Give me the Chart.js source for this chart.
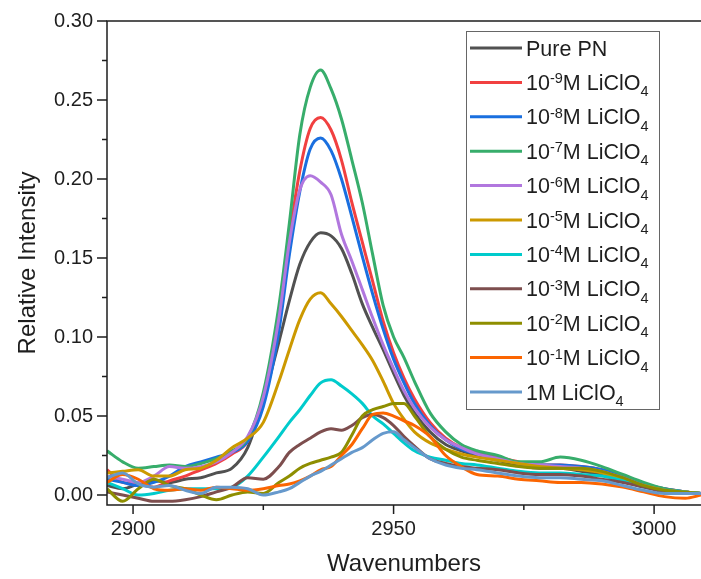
<!DOCTYPE html>
<html>
<head>
<meta charset="utf-8">
<script src="https://cdn.jsdelivr.net/npm/chart.js@4.4.1/dist/chart.umd.min.js"></script>
<style>
  html, body { margin: 0; padding: 0; background: #fff; }
  canvas { display: block; }
</style>
</head>
<body>
<canvas id="chart" width="701" height="579"></canvas>
<script>
// Wavenumber positions shared by every spectrum
const wavenumbers = [2895, 2898, 2901, 2904, 2907, 2910, 2913, 2916, 2919, 2922,
    2925, 2928, 2930, 2932, 2934, 2936, 2938, 2940, 2942, 2944,
    2946, 2948, 2950, 2952, 2954, 2957, 2960, 2963, 2966, 2970,
    2974, 2978, 2982, 2986, 2990, 2994, 2998, 3002, 3006, 3009];

// Relative intensity, one array per sample
const purePN = [0.006, 0.004, 0.007, 0.009, 0.008, 0.010, 0.011, 0.014, 0.017, 0.030,
    0.060, 0.097, 0.123, 0.146, 0.160, 0.166, 0.164, 0.156, 0.140, 0.121,
    0.106, 0.092, 0.077, 0.063, 0.052, 0.040, 0.032, 0.028, 0.025, 0.022,
    0.019, 0.017, 0.017, 0.015, 0.013, 0.010, 0.006, 0.003, 0.002, 0.001];
const m1e9 = [0.016, 0.008, 0.007, 0.005, 0.009, 0.012, 0.016, 0.020, 0.026, 0.034,
    0.060, 0.112, 0.163, 0.205, 0.232, 0.239, 0.231, 0.212, 0.185, 0.160,
    0.135, 0.110, 0.090, 0.074, 0.061, 0.046, 0.036, 0.030, 0.027, 0.024,
    0.021, 0.019, 0.019, 0.018, 0.016, 0.012, 0.007, 0.004, 0.002, 0.001];
const m1e8 = [0.010, 0.008, 0.006, 0.008, 0.012, 0.018, 0.021, 0.024, 0.027, 0.034,
    0.056, 0.104, 0.152, 0.192, 0.219, 0.226, 0.218, 0.200, 0.176, 0.151,
    0.127, 0.105, 0.086, 0.071, 0.058, 0.044, 0.035, 0.029, 0.026, 0.023,
    0.020, 0.019, 0.019, 0.018, 0.016, 0.012, 0.007, 0.004, 0.002, 0.001];
const m1e7 = [0.028, 0.021, 0.017, 0.018, 0.019, 0.018, 0.020, 0.023, 0.028, 0.036,
    0.065, 0.120, 0.172, 0.228, 0.258, 0.269, 0.257, 0.238, 0.212, 0.185,
    0.152, 0.120, 0.100, 0.087, 0.072, 0.052, 0.040, 0.032, 0.028, 0.025,
    0.021, 0.021, 0.024, 0.022, 0.018, 0.013, 0.008, 0.004, 0.002, 0.001];
const m1e6 = [0.012, 0.010, 0.008, 0.012, 0.018, 0.017, 0.018, 0.021, 0.027, 0.037,
    0.062, 0.112, 0.160, 0.193, 0.202, 0.198, 0.190, 0.165, 0.148, 0.130,
    0.112, 0.095, 0.080, 0.066, 0.055, 0.043, 0.035, 0.030, 0.026, 0.023,
    0.020, 0.019, 0.018, 0.017, 0.015, 0.011, 0.006, 0.003, 0.002, 0.001];
const m1e5 = [0.014, 0.015, 0.016, 0.012, 0.012, 0.016, 0.017, 0.022, 0.030, 0.036,
    0.046, 0.072, 0.092, 0.111, 0.124, 0.128, 0.121, 0.113, 0.104, 0.095,
    0.085, 0.072, 0.058, 0.048, 0.040, 0.033, 0.029, 0.026, 0.024, 0.022,
    0.020, 0.018, 0.017, 0.016, 0.014, 0.010, 0.006, 0.003, 0.002, 0.001];
const m1e4 = [0.008, 0.004, 0.000, 0.001, 0.003, 0.004, 0.004, 0.004, 0.005, 0.012,
    0.024, 0.037, 0.046, 0.054, 0.063, 0.071, 0.073, 0.069, 0.064, 0.058,
    0.050, 0.045, 0.039, 0.033, 0.028, 0.024, 0.022, 0.020, 0.019, 0.017,
    0.015, 0.014, 0.014, 0.013, 0.012, 0.009, 0.005, 0.003, 0.002, 0.001];
const m1e3 = [0.002, 0.000, -0.002, -0.004, -0.004, -0.003, -0.001, 0.002, 0.005, 0.011,
    0.010, 0.018, 0.027, 0.032, 0.036, 0.040, 0.042, 0.041, 0.044, 0.049,
    0.051, 0.049, 0.044, 0.037, 0.031, 0.023, 0.020, 0.018, 0.017, 0.016,
    0.014, 0.013, 0.013, 0.012, 0.010, 0.008, 0.005, 0.002, 0.001, 0.001];
const m1e2 = [0.004, -0.004, 0.004, 0.010, 0.006, 0.004, 0.000, -0.003, 0.000, 0.002,
    0.001, 0.008, 0.012, 0.017, 0.020, 0.022, 0.024, 0.027, 0.038, 0.050,
    0.054, 0.056, 0.058, 0.058, 0.050, 0.037, 0.029, 0.024, 0.022, 0.020,
    0.018, 0.017, 0.017, 0.017, 0.015, 0.011, 0.006, 0.003, 0.002, 0.001];
const m1e1 = [0.008, 0.013, 0.010, 0.004, 0.003, 0.004, 0.003, 0.005, 0.004, 0.003,
    0.004, 0.006, 0.007, 0.009, 0.012, 0.016, 0.018, 0.025, 0.032, 0.042,
    0.051, 0.052, 0.050, 0.047, 0.044, 0.037, 0.025, 0.018, 0.013, 0.012,
    0.010, 0.009, 0.008, 0.008, 0.007, 0.005, 0.002, -0.001, -0.002, 0.000];
const m1 = [0.011, 0.014, 0.007, 0.005, 0.006, 0.003, 0.001, 0.005, 0.005, 0.004,
    0.000, 0.002, 0.004, 0.008, 0.012, 0.015, 0.019, 0.023, 0.027, 0.030,
    0.035, 0.039, 0.040, 0.035, 0.030, 0.023, 0.019, 0.017, 0.016, 0.014,
    0.012, 0.011, 0.011, 0.010, 0.009, 0.006, 0.003, 0.001, 0.001, 0.001];

// ^{..} = superscript, _{..} = subscript (drawn by the legend plugin)
const seriesLabels = ['Pure PN', '10^{-9}M LiClO_{4}', '10^{-8}M LiClO_{4}', '10^{-7}M LiClO_{4}',
    '10^{-6}M LiClO_{4}', '10^{-5}M LiClO_{4}', '10^{-4}M LiClO_{4}', '10^{-3}M LiClO_{4}',
    '10^{-2}M LiClO_{4}', '10^{-1}M LiClO_{4}', '1M LiClO_{4}'];
const seriesData = [purePN, m1e9, m1e8, m1e7, m1e6, m1e5, m1e4, m1e3, m1e2, m1e1, m1];
const seriesColors = ['#515151', '#F14040', '#1A6FDF', '#37AD6B', '#B177DE', '#CC9900',
    '#00CBCC', '#7D4E4E', '#8E8E00', '#FB6501', '#6699CC'];

const xMajorTicks = [2900, 2950, 3000];
const xMinorTicks = [2925, 2975];
const yMajorTicks = [0, 0.05, 0.10, 0.15, 0.20, 0.25, 0.30];
const yMinorTicks = [0.025, 0.075, 0.125, 0.175, 0.225, 0.275];

const FONT = "'Liberation Sans', Arial, sans-serif";
const INK = '#1e1e1e';

function parseRich(s) {
    const parts = [];
    const re = /([\^_])\{([^}]*)\}/g;
    let last = 0, m;
    while ((m = re.exec(s))) {
        if (m.index > last) parts.push({ t: s.slice(last, m.index), k: 'n' });
        parts.push({ t: m[2], k: m[1] === '^' ? 'sup' : 'sub' });
        last = re.lastIndex;
    }
    if (last < s.length) parts.push({ t: s.slice(last), k: 'n' });
    return parts;
}

// Axis frame with Origin-style outward ticks
const framePlugin = {
    id: 'frame',
    afterDatasetsDraw(chart) {
        const { ctx, chartArea: a, scales: { x, y } } = chart;
        ctx.save();
        ctx.strokeStyle = INK;
        ctx.lineWidth = 1.5;
        ctx.beginPath();
        ctx.moveTo(a.right + 2, a.top);
        ctx.lineTo(a.left, a.top);
        ctx.lineTo(a.left, a.bottom);
        ctx.lineTo(a.right + 2, a.bottom);
        ctx.stroke();

        ctx.beginPath();
        xMajorTicks.forEach(v => {
            const px = x.getPixelForValue(v);
            ctx.moveTo(px, a.bottom); ctx.lineTo(px, a.bottom + 9);
        });
        xMinorTicks.forEach(v => {
            const px = x.getPixelForValue(v);
            ctx.moveTo(px, a.bottom); ctx.lineTo(px, a.bottom + 5);
        });
        yMajorTicks.forEach(v => {
            const py = y.getPixelForValue(v);
            ctx.moveTo(a.left, py); ctx.lineTo(a.left - 10, py);
        });
        yMinorTicks.forEach(v => {
            const py = y.getPixelForValue(v);
            ctx.moveTo(a.left, py); ctx.lineTo(a.left - 5, py);
        });
        ctx.stroke();
        ctx.restore();
    }
};

// Legend with superscripts / subscripts
const legendPlugin = {
    id: 'richLegend',
    afterDraw(chart) {
        const { ctx } = chart;
        const box = { left: 466, top: 31, right: 659, bottom: 409 };
        const rowTop = 48, rowGap = 34.4;
        ctx.save();
        ctx.fillStyle = '#fff';
        ctx.fillRect(box.left, box.top, box.right - box.left, box.bottom - box.top);
        ctx.strokeStyle = '#666';
        ctx.lineWidth = 1;
        ctx.strokeRect(box.left + 0.5, box.top + 0.5, box.right - box.left, box.bottom - box.top);

        chart.data.datasets.forEach((ds, i) => {
            const cy = rowTop + i * rowGap;
            ctx.strokeStyle = ds.borderColor;
            ctx.lineWidth = 3;
            ctx.beginPath();
            ctx.moveTo(470, cy);
            ctx.lineTo(522, cy);
            ctx.stroke();

            let tx = 526;
            const base = cy + 7.5;
            ctx.fillStyle = INK;
            ctx.textBaseline = 'alphabetic';
            ctx.textAlign = 'left';
            parseRich(seriesLabels[i]).forEach(p => {
                let dy = 0;
                if (p.k === 'n') ctx.font = '21.5px ' + FONT;
                else { ctx.font = '14.5px ' + FONT; dy = p.k === 'sup' ? -6.5 : 6.5; }
                ctx.fillText(p.t, tx, base + dy);
                tx += ctx.measureText(p.t).width;
            });
        });
        ctx.restore();
    }
};

const datasets = seriesData.map((vals, i) => ({
    label: seriesLabels[i].replace(/[\^_]\{([^}]*)\}/g, '$1'),
    data: vals.map((v, j) => ({ x: wavenumbers[j], y: v })),
    borderColor: seriesColors[i],
    backgroundColor: seriesColors[i],
    borderWidth: 3,
    pointRadius: 0,
    fill: false,
    cubicInterpolationMode: 'monotone',
    order: seriesData.length - i
}));

new Chart(document.getElementById('chart').getContext('2d'), {
    type: 'line',
    data: { datasets: datasets },
    options: {
        responsive: false,
        animation: false,
        events: [],
        layout: { padding: { top: 21, right: 0, bottom: 0, left: 0 } },
        plugins: { legend: { display: false }, tooltip: { enabled: false } },
        scales: {
            x: {
                type: 'linear',
                min: 2895,
                max: 3009,
                grid: { display: false, drawTicks: false },
                border: { display: false },
                ticks: {
                    stepSize: 50,
                    includeBounds: false,
                    padding: 12,
                    color: INK,
                    font: { family: FONT, size: 20 },
                    maxRotation: 0,
                    callback: v => String(v)
                },
                title: {
                    display: true,
                    text: 'Wavenumbers',
                    color: INK,
                    font: { family: FONT, size: 24 },
                    padding: { top: 0, bottom: 0 }
                },
                afterFit: s => { s.height = 74; s.paddingLeft = 0; s.paddingRight = 0; }
            },
            y: {
                min: -0.0063,
                max: 0.30,
                grid: { display: false, drawTicks: false },
                border: { display: false },
                ticks: {
                    stepSize: 0.05,
                    includeBounds: false,
                    padding: 14,
                    color: INK,
                    font: { family: FONT, size: 20 },
                    callback: v => v.toFixed(2)
                },
                title: {
                    display: true,
                    text: 'Relative Intensity',
                    color: INK,
                    font: { family: FONT, size: 24 },
                    padding: { top: 14, bottom: 0 }
                },
                afterFit: s => { s.width = 107; s.paddingTop = 0; s.paddingBottom = 0; }
            }
        }
    },
    plugins: [framePlugin, legendPlugin]
});
</script>
</body>
</html>
